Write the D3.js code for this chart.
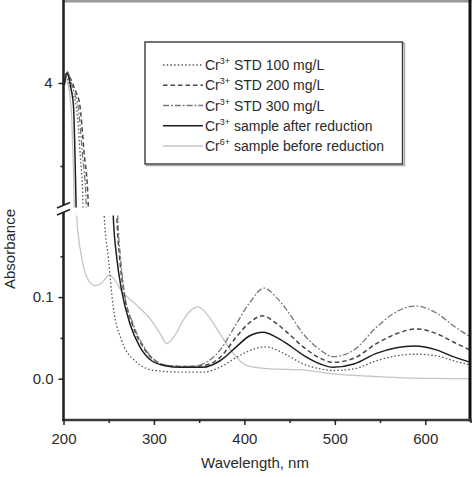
<!DOCTYPE html>
<html>
<head>
<meta charset="utf-8">
<script src="https://cdn.jsdelivr.net/npm/d3@7"></script>
<style>
  body { margin: 0; background: #fff; }
  svg { display: block; font-family: "Liberation Sans", Arial, sans-serif; }
</style>
</head>
<body>
<svg id="chart" width="474" height="477"></svg>
<script>
// ---- data: [wavelength nm, absorbance] ----
const std100 = [[201,3.98],[203.5,4.08],[206,4.0],[209,3.9],[214,3.73],[218.5,3.13],[221.5,2.57],[222,2.3],
  [244,0.26],[245,0.2],[249.5,0.149],[255,0.088],[264.3,0.047],[279,0.022],[301,0.010],[334,0.008],[354,0.008],
  [373,0.014],[391,0.026],[405,0.034],[423,0.039],[447,0.029],[465,0.018],[484,0.012],[498,0.010],[521,0.012],
  [546,0.022],[568,0.028],[590,0.030],[613,0.028],[631,0.022],[650,0.017]];
const std200 = [[201,4.0],[204,4.12],[207,4.07],[211,3.97],[214.5,3.87],[217.7,3.76],[222.8,3.16],[227.2,2.58],[227.8,2.3],
  [258,0.26],[259,0.2],[262,0.149],[266.5,0.108],[276,0.067],[288,0.039],[301,0.022],[315,0.016],[335,0.015],
  [354,0.016],[373,0.026],[391,0.051],[405,0.068],[420,0.077],[435,0.068],[447,0.057],[465,0.039],[484,0.025],
  [498,0.020],[521,0.025],[546,0.043],[568,0.055],[590,0.061],[613,0.055],[631,0.045],[650,0.035]];
const std300 = [[201,4.0],[204,4.14],[207,4.07],[210,3.95],[213,3.85],[216,3.73],[221,3.13],[225,2.57],[225.6,2.3],
  [259,0.26],[260,0.2],[263,0.149],[267,0.108],[277,0.067],[289,0.039],[302,0.022],[318,0.016],[340,0.015],
  [354,0.018],[373,0.035],[391,0.067],[405,0.092],[422,0.111],[435,0.100],[447,0.084],[465,0.055],[484,0.035],
  [498,0.027],[521,0.035],[546,0.063],[568,0.082],[590,0.089],[613,0.080],[631,0.065],[650,0.051]];
const afterRed = [[201,3.98],[203.5,4.12],[206,4.06],[208.5,3.92],[211,3.73],[212.7,3.13],[213.8,2.57],[214.3,2.3],
  [253.5,0.26],[255,0.2],[258.8,0.149],[264.3,0.108],[273.5,0.067],[284.5,0.039],[297.5,0.022],[312,0.016],
  [330,0.014],[354,0.014],[373,0.022],[391,0.039],[405,0.052],[421,0.057],[435,0.051],[447,0.043],[465,0.029],
  [484,0.018],[498,0.014],[521,0.018],[546,0.031],[568,0.038],[588,0.040],[613,0.035],[631,0.027],[650,0.020]];
const beforeRed = [[201,3.98],[203,4.06],[205,3.98],[207,3.85],[209,3.6],[210.5,3.13],[211.7,2.57],[212,2.3],
  [214,0.26],[214.6,0.2],[217,0.17],[220,0.149],[225.6,0.125],[234.8,0.114],[242,0.117],[250.6,0.127],[256,0.122],
  [264,0.108],[279,0.092],[297.5,0.071],[307,0.055],[314,0.043],[322,0.051],[332,0.071],[340,0.083],[349,0.088],
  [360,0.077],[373,0.055],[385,0.035],[395,0.022],[406,0.015],[430,0.012],[461,0.011],[498,0.006],[540,0.003],
  [576,0.001],[650,0.0]];

const seriesLabels = [
  {ion:"3+", rest:" STD 100 mg/L"},
  {ion:"3+", rest:" STD 200 mg/L"},
  {ion:"3+", rest:" STD 300 mg/L"},
  {ion:"3+", rest:" sample after reduction"},
  {ion:"6+", rest:" sample before reduction"}
];
const xMajor = [200,300,400,500,600];
const xMinor = [250,350,450,550,650];
const yLowMajor = [0.0, 0.1];
const yLowMinor = [0.05, 0.15];
const yUpMajor = [4];
const yUpMinor = [3];

// ---- styles ----
const styles = [
  {stroke:"#555", width:1.3, dash:"1.5,2.2"},
  {stroke:"#444", width:1.5, dash:"4.5,3"},
  {stroke:"#777", width:1.3, dash:"6,2,1.8,2"},
  {stroke:"#1e1e1e", width:1.5, dash:null},
  {stroke:"#c4c4c4", width:1.3, dash:null}
];
const allSeries = [std100, std200, std300, afterRed, beforeRed];

const svg = d3.select("#chart");
svg.append("rect").attr("width",474).attr("height",477).attr("fill","#fff");

const left = 63.5, right = 470.5;
const x = d3.scaleLinear().domain([200,650]).range([left,right]);
const yLow = d3.scaleLinear().domain([-0.05,0.2]).range([419.5,215.5]);
const yUp = d3.scaleLinear().domain([2.5,5]).range([207.5,0]);

const defs = svg.append("defs");
defs.append("clipPath").attr("id","clipUp").append("rect")
  .attr("x",left).attr("y",0).attr("width",right-left).attr("height",207.5);
defs.append("clipPath").attr("id","clipLow").append("rect")
  .attr("x",left).attr("y",215.5).attr("width",right-left).attr("height",419.5-215.5);

const gUp = svg.append("g").attr("clip-path","url(#clipUp)");
const gLow = svg.append("g").attr("clip-path","url(#clipLow)");

function drawSeries(g, yScale) {
  const line = d3.line().x(d=>x(d[0])).y(d=>yScale(d[1])).curve(d3.curveMonotoneX);
  [4,0,1,2,3].forEach(i => {
    g.append("path").datum(allSeries[i])
      .attr("d", line).attr("fill","none")
      .attr("stroke", styles[i].stroke).attr("stroke-width", styles[i].width)
      .attr("stroke-dasharray", styles[i].dash);
  });
}
drawSeries(gUp, yUp);
drawSeries(gLow, yLow);

// ---- frame ----
const axisColor = "#222";
svg.append("line").attr("x1",left).attr("x2",right+1).attr("y1",1.2).attr("y2",1.2)
  .attr("stroke","#9a9a9a").attr("stroke-width",2.6);
svg.append("line").attr("x1",470).attr("x2",470).attr("y1",0).attr("y2",421.5)
  .attr("stroke","#111").attr("stroke-width",3);
svg.append("line").attr("x1",left-1.5).attr("x2",471.5).attr("y1",420).attr("y2",420)
  .attr("stroke","#3a3a3a").attr("stroke-width",2.6);
svg.append("line").attr("x1",left).attr("x2",left).attr("y1",0).attr("y2",205)
  .attr("stroke",axisColor).attr("stroke-width",2.6);
svg.append("line").attr("x1",left).attr("x2",left).attr("y1",212).attr("y2",421)
  .attr("stroke",axisColor).attr("stroke-width",2.6);
// break marks
[[57,208,70,202.5],[57,215,70,209.5]].forEach(s => {
  svg.append("line").attr("x1",s[0]).attr("y1",s[1]).attr("x2",s[2]).attr("y2",s[3])
    .attr("stroke",axisColor).attr("stroke-width",1.6);
});

// ---- axes ----
function styleAxis(g) {
  g.select(".domain").remove();
  g.selectAll(".tick line").attr("stroke",axisColor).attr("stroke-width",1.5);
  g.selectAll(".tick text").attr("fill","#2a2a2a").style("font-size","15px")
    .style("font-family","'Liberation Sans', Arial, sans-serif");
}
svg.append("g").attr("transform","translate(0,420)")
  .call(d3.axisBottom(x).tickValues(xMajor).tickSize(5).tickPadding(8).tickFormat(d3.format("d")))
  .call(styleAxis);
svg.append("g").attr("transform","translate(0,420)")
  .call(d3.axisBottom(x).tickValues(xMinor).tickSize(3).tickFormat(""))
  .call(styleAxis);
svg.append("g").attr("transform",`translate(${left},0)`)
  .call(d3.axisLeft(yLow).tickValues(yLowMajor).tickSize(5).tickPadding(5).tickFormat(d3.format(".1f")))
  .call(styleAxis);
svg.append("g").attr("transform",`translate(${left},0)`)
  .call(d3.axisLeft(yLow).tickValues(yLowMinor).tickSize(3).tickFormat(""))
  .call(styleAxis);
svg.append("g").attr("transform",`translate(${left},0)`)
  .call(d3.axisLeft(yUp).tickValues(yUpMajor).tickSize(5).tickPadding(6).tickFormat(d3.format("d")))
  .call(styleAxis);
svg.append("g").attr("transform",`translate(${left},0)`)
  .call(d3.axisLeft(yUp).tickValues(yUpMinor).tickSize(3).tickFormat(""))
  .call(styleAxis);

// axis titles
svg.append("text").attr("x",255).attr("y",468).attr("text-anchor","middle")
  .attr("fill","#2a2a2a").style("font-size","15px").text("Wavelength, nm");
svg.append("text").attr("transform","translate(15,249) rotate(-90)").attr("text-anchor","middle")
  .attr("fill","#2a2a2a").style("font-size","15px").text("Absorbance");

// ---- legend ----
const lg = svg.append("g");
lg.append("rect").attr("x",146.5).attr("y",43.5).attr("width",258).attr("height",122)
  .attr("fill","none").attr("stroke","#aaa").attr("stroke-width",1.5);
lg.append("rect").attr("x",145).attr("y",42).attr("width",257.5).attr("height",122)
  .attr("fill","#fff").attr("stroke","#3a3a3a").attr("stroke-width",1.4);
const rowY = d3.scaleLinear().domain([0,4]).range([65,146]);
seriesLabels.forEach((s,i) => {
  const yy = rowY(i);
  lg.append("line").attr("x1",163).attr("x2",203).attr("y1",yy).attr("y2",yy)
    .attr("stroke",styles[i].stroke).attr("stroke-width",styles[i].width)
    .attr("stroke-dasharray",styles[i].dash);
  const t = lg.append("text").attr("x",205).attr("y",yy+5).attr("fill","#2a2a2a").style("font-size","14px");
  t.append("tspan").text("Cr");
  t.append("tspan").attr("dy",-6).style("font-size","9px").text(s.ion);
  t.append("tspan").attr("dy",6).text(s.rest);
});
</script>
</body>
</html>
